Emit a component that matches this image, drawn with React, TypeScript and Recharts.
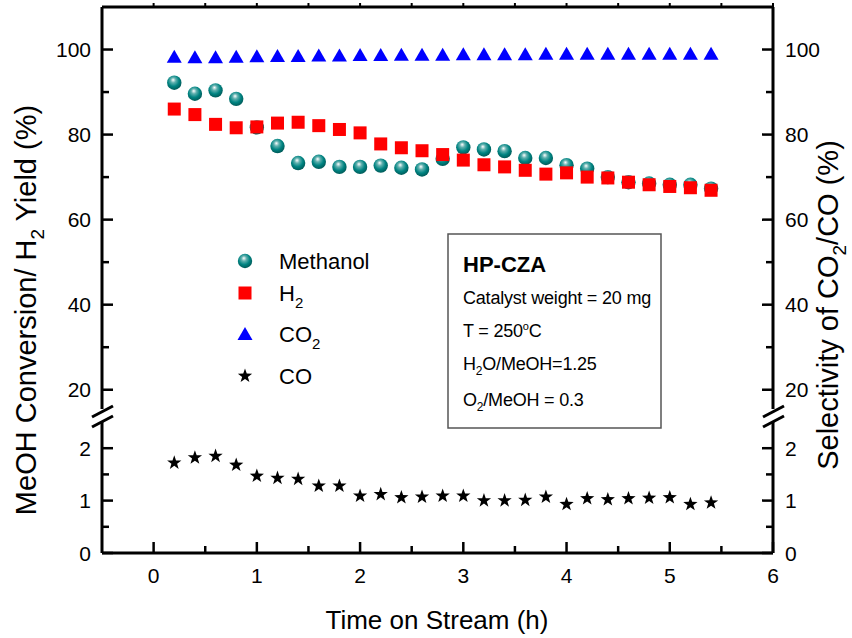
import React from 'react';
import { ScatterChart, Scatter, XAxis, YAxis } from 'recharts';

// time on stream (h)
const times = [0.2, 0.4, 0.6, 0.8, 1.0, 1.2, 1.4, 1.6, 1.8, 2.0, 2.2, 2.4, 2.6, 2.8, 3.0, 3.2, 3.4, 3.6, 3.8, 4.0, 4.2, 4.4, 4.6, 4.8, 5.0, 5.2, 5.4];

// upper panel (%)
const methanol = [92.2, 89.6, 90.4, 88.4, 81.7, 77.3, 73.3, 73.6, 72.4, 72.4, 72.7, 72.2, 71.8, 74.3, 77.0, 76.5, 76.1, 74.5, 74.5, 72.8, 72.0, 70.0, 68.8, 68.5, 68.2, 68.2, 67.3];
const h2 = [86.0, 84.7, 82.4, 81.6, 81.8, 82.7, 82.9, 82.1, 81.2, 80.4, 77.8, 76.9, 76.2, 75.3, 74.0, 72.9, 72.4, 71.6, 70.7, 71.0, 70.0, 69.8, 68.8, 68.2, 67.8, 67.5, 66.9];
const co2 = [98.3, 98.2, 98.2, 98.3, 98.4, 98.5, 98.5, 98.6, 98.6, 98.7, 98.7, 98.8, 98.8, 98.8, 98.9, 98.9, 98.9, 98.9, 99.0, 99.0, 99.0, 99.0, 99.0, 99.0, 99.0, 99.0, 99.0];

// lower panel (%)
const co = [1.72, 1.82, 1.85, 1.68, 1.47, 1.43, 1.41, 1.28, 1.28, 1.09, 1.12, 1.06, 1.07, 1.09, 1.09, 1.00, 1.00, 1.01, 1.07, 0.93, 1.04, 1.02, 1.04, 1.05, 1.06, 0.93, 0.96];

const upperDomain: [number, number] = [15, 110];
const lowerDomain: [number, number] = [0, 2.5];
const xDomain: [number, number] = [-0.5, 6];
const upperTicks = [20, 30, 40, 50, 60, 70, 80, 90, 100];
const upperLabels = [20, 40, 60, 80, 100];
const lowerTicks = [0, 0.5, 1, 1.5, 2];
const lowerLabels = [0, 1, 2];
const xTicks = [0, 0.5, 1, 1.5, 2, 2.5, 3, 3.5, 4, 4.5, 5, 5.5, 6];
const xLabels = [0, 1, 2, 3, 4, 5, 6];

const legendItems = ['Methanol', 'H2', 'CO2', 'CO'];
const infoLines = ['Catalyst weight = 20 mg', 'T = 250oC', 'H2O/MeOH=1.25', 'O2/MeOH = 0.3'];

const FONT = '"Liberation Sans", Arial, sans-serif';
const W = 852;
const H = 638;

const toPoints = (vals: number[]) => vals.map((v, i) => ({ t: times[i], v }));

const Sphere = ({ cx, cy }: any) => <circle cx={cx} cy={cy} r={7.2} fill="url(#sphereGrad)" />;
const Square = ({ cx, cy }: any) => <rect x={cx - 6.5} y={cy - 6.5} width={13} height={13} fill="#ff0000" />;
const Triangle = ({ cx, cy }: any) => (
    <polygon points={`${cx},${cy - 7} ${cx - 7.5},${cy + 6} ${cx + 7.5},${cy + 6}`} fill="#0000ff" />
);
const Star = ({ cx, cy }: any) => {
    const pts: string[] = [];
    for (let i = 0; i < 10; i++) {
        const r = i % 2 === 0 ? 7.5 : 3;
        const a = -Math.PI / 2 + (i * Math.PI) / 5;
        pts.push(`${cx + r * Math.cos(a)},${cy + r * Math.sin(a)}`);
    }
    return <polygon points={pts.join(' ')} fill="#000" />;
};

const LeftTick = ({ x, y, payload, labels }: any) => {
    const major = labels.includes(payload.value);
    return (
        <g>
            <line x1={x} y1={y} x2={x + (major ? 11 : 7)} y2={y} stroke="#000" strokeWidth={2.5} />
            {major && (
                <text x={x - 11} y={y} dy="0.36em" textAnchor="end" fontSize={21} fontFamily={FONT} fill="#000">
                    {payload.value}
                </text>
            )}
        </g>
    );
};

const RightTick = ({ x, y, payload, labels }: any) => {
    const major = labels.includes(payload.value);
    return (
        <g>
            <line x1={x} y1={y} x2={x - (major ? 11 : 7)} y2={y} stroke="#000" strokeWidth={2.5} />
            {major && (
                <text x={x + 12} y={y} dy="0.36em" textAnchor="start" fontSize={21} fontFamily={FONT} fill="#000">
                    {payload.value}
                </text>
            )}
        </g>
    );
};

const BottomTick = ({ x, y, payload }: any) => {
    const major = xLabels.includes(payload.value);
    return (
        <g>
            <line x1={x} y1={y} x2={x} y2={y - (major ? 11 : 7)} stroke="#000" strokeWidth={2.5} />
            {major && (
                <text x={x} y={y + 30} textAnchor="middle" fontSize={21} fontFamily={FONT} fill="#000">
                    {payload.value}
                </text>
            )}
        </g>
    );
};

const TopTick = ({ x, y }: any) => <line x1={x} y1={y} x2={x} y2={y - 4} stroke="#000" strokeWidth={2} />;

const axisLine = { stroke: '#000', strokeWidth: 3 };

// text with a subscript 2 after the given prefix
const Sub = ({ pre, post, subSize, shift }: any) => (
    <>
        {pre}
        <tspan dy={shift} fontSize={subSize}>2</tspan>
        <tspan dy={-shift}>{post}</tspan>
    </>
);

const legendMarker = (name: string, cx: number, cy: number) => {
    if (name === 'Methanol') return <Sphere cx={cx} cy={cy} />;
    if (name === 'H2') return <Square cx={cx} cy={cy} />;
    if (name === 'CO2') return <Triangle cx={cx} cy={cy} />;
    return <Star cx={cx} cy={cy} />;
};

const legendLabel = (name: string) => {
    if (name === 'H2') return <Sub pre="H" post="" subSize={15} shift={7} />;
    if (name === 'CO2') return <Sub pre="CO" post="" subSize={15} shift={7} />;
    return name;
};

const infoLabel = (line: string) => {
    if (line.startsWith('H2O')) return <Sub pre="H" post={line.slice(2)} subSize={12} shift={5} />;
    if (line.startsWith('O2')) return <Sub pre="O" post={line.slice(2)} subSize={12} shift={5} />;
    if (line.includes('oC')) {
        const [a] = line.split('oC');
        return (
            <>
                {a}
                <tspan dy={-7} fontSize={11}>o</tspan>
                <tspan dy={7}>C</tspan>
            </>
        );
    }
    return line;
};

export default function App() {
    const legendRows = [261, 293, 334, 376];
    const infoRows = [304, 337, 370, 406];
    const breakY = [411, 422];

    return (
        <div style={{ position: 'absolute', left: 0, top: 0, width: W, height: H, background: '#fff', fontFamily: FONT }}>
            {/* upper segment: 15 - 110 % */}
            <div style={{ position: 'absolute', left: 0, top: 0 }}>
                <ScatterChart width={W} height={420} margin={{ top: 0, right: 39, bottom: 9, left: 62 }}>
                    <XAxis
                        xAxisId="top"
                        orientation="top"
                        type="number"
                        dataKey="t"
                        domain={xDomain}
                        allowDataOverflow
                        ticks={xTicks}
                        height={7}
                        tickSize={0}
                        tickMargin={0}
                        tickLine={false}
                        axisLine={axisLine}
                        tick={(p: any) => <TopTick {...p} />}
                    />
                    <YAxis
                        yAxisId="left"
                        type="number"
                        dataKey="v"
                        domain={upperDomain}
                        allowDataOverflow
                        ticks={upperTicks}
                        width={40}
                        tickSize={0}
                        tickMargin={0}
                        tickLine={false}
                        axisLine={axisLine}
                        tick={(p: any) => <LeftTick {...p} labels={upperLabels} />}
                    />
                    <YAxis
                        yAxisId="right"
                        orientation="right"
                        type="number"
                        dataKey="v"
                        domain={upperDomain}
                        allowDataOverflow
                        ticks={upperTicks}
                        width={40}
                        tickSize={0}
                        tickMargin={0}
                        tickLine={false}
                        axisLine={axisLine}
                        tick={(p: any) => <RightTick {...p} labels={upperLabels} />}
                    />
                    <Scatter name="CO2" data={toPoints(co2)} xAxisId="top" yAxisId="right" shape={Triangle} isAnimationActive={false} />
                    <Scatter name="Methanol" data={toPoints(methanol)} xAxisId="top" yAxisId="left" shape={Sphere} isAnimationActive={false} />
                    <Scatter name="H2" data={toPoints(h2)} xAxisId="top" yAxisId="left" shape={Square} isAnimationActive={false} />
                </ScatterChart>
            </div>

            {/* lower segment: 0 - 2.5 % */}
            <div style={{ position: 'absolute', left: 0, top: 411 }}>
                <ScatterChart width={W} height={227} margin={{ top: 11, right: 39, bottom: 25, left: 62 }}>
                    <XAxis
                        type="number"
                        dataKey="t"
                        domain={xDomain}
                        allowDataOverflow
                        ticks={xTicks}
                        height={60}
                        tickSize={0}
                        tickMargin={0}
                        tickLine={false}
                        axisLine={axisLine}
                        tick={(p: any) => <BottomTick {...p} />}
                    />
                    <YAxis
                        yAxisId="left"
                        type="number"
                        dataKey="v"
                        domain={lowerDomain}
                        allowDataOverflow
                        ticks={lowerTicks}
                        width={40}
                        tickSize={0}
                        tickMargin={0}
                        tickLine={false}
                        axisLine={axisLine}
                        tick={(p: any) => <LeftTick {...p} labels={lowerLabels} />}
                    />
                    <YAxis
                        yAxisId="right"
                        orientation="right"
                        type="number"
                        dataKey="v"
                        domain={lowerDomain}
                        allowDataOverflow
                        ticks={lowerTicks}
                        width={40}
                        tickSize={0}
                        tickMargin={0}
                        tickLine={false}
                        axisLine={axisLine}
                        tick={(p: any) => <RightTick {...p} labels={lowerLabels} />}
                    />
                    <Scatter name="CO" data={toPoints(co)} yAxisId="right" shape={Star} isAnimationActive={false} />
                </ScatterChart>
            </div>

            {/* titles, axis breaks, legend and the condition box */}
            <svg width={W} height={H} style={{ position: 'absolute', left: 0, top: 0, pointerEvents: 'none' }} fontFamily={FONT}>
                <defs>
                    <radialGradient id="sphereGrad" cx="0.45" cy="0.4" r="0.6" fx="0.42" fy="0.3">
                        <stop offset="0" stopColor="#ffffff" />
                        <stop offset="0.3" stopColor="#5fb0ae" />
                        <stop offset="0.65" stopColor="#008482" />
                        <stop offset="1" stopColor="#005a58" />
                    </radialGradient>
                </defs>

                {[102, 773].map((ax) => (
                    <g key={ax}>
                        <line x1={ax - 3} y1={breakY[0]} x2={ax + 3} y2={breakY[0]} stroke="#fff" strokeWidth={4} />
                        <line x1={ax - 10} y1={breakY[0] + 6} x2={ax + 11} y2={breakY[0] - 5} stroke="#000" strokeWidth={3} />
                        <line x1={ax - 10} y1={breakY[1] + 5} x2={ax + 11} y2={breakY[1] - 6} stroke="#000" strokeWidth={3} />
                    </g>
                ))}

                <text transform="translate(36, 310) rotate(-90)" textAnchor="middle" fontSize={29} fill="#000">
                    <Sub pre="MeOH Conversion/ H" post=" Yield (%)" subSize={19} shift={8} />
                </text>
                <text transform="translate(838, 305) rotate(-90)" textAnchor="middle" fontSize={29} fill="#000">
                    <Sub pre="Selectivity of CO" post="/CO (%)" subSize={19} shift={8} />
                </text>
                <text x={437} y={629} textAnchor="middle" fontSize={26} fill="#000">Time on Stream (h)</text>

                {legendItems.map((name, i) => (
                    <g key={name}>
                        {legendMarker(name, 245, legendRows[i])}
                        <text x={279} y={legendRows[i] + 8} fontSize={22} fill="#000">{legendLabel(name)}</text>
                    </g>
                ))}

                <rect x={448} y={234} width={213} height={194} fill="none" stroke="#555" strokeWidth={1.5} />
                <text x={463} y={272} fontSize={22} fontWeight="bold" fill="#000">HP-CZA</text>
                {infoLines.map((line, i) => (
                    <text key={line} x={463} y={infoRows[i]} fontSize={18} letterSpacing={-0.2} fill="#000">{infoLabel(line)}</text>
                ))}
            </svg>
        </div>
    );
}
